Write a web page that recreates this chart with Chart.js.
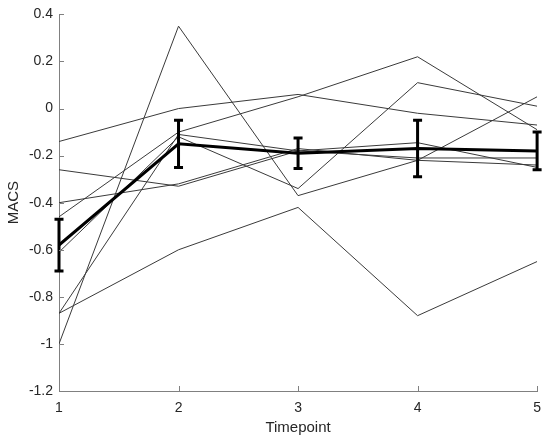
<!DOCTYPE html>
<html>
<head>
<meta charset="utf-8">
<title>MACS by timepoint</title>
<script src="https://cdn.jsdelivr.net/npm/chart.js@4.4.0/dist/chart.umd.min.js"></script>
<style>
  html, body { margin: 0; padding: 0; background: #fff; }
  canvas { display: block; }
</style>
</head>
<body>
<canvas id="macsChart" width="550" height="441"></canvas>
<script>
// timepoints on the x axis
const timepoints = [1, 2, 3, 4, 5];

// individual subjects (thin lines)
const subjectA = [-0.14, 0.00, 0.06, -0.02, -0.07];
const subjectB = [-1.00, 0.35, -0.37, -0.22, 0.05];
const subjectC = [-0.26, -0.33, -0.18, -0.21, -0.21];
const subjectD = [-0.40, -0.32, -0.17, -0.22, -0.24];
const subjectE = [-0.46, -0.10, 0.05, 0.22, -0.09];
const subjectF = [-0.61, -0.12, -0.34, 0.11, 0.01];
const subjectG = [-0.87, -0.11, -0.18, -0.145, -0.25];
const subjectH = [-0.87, -0.60, -0.42, -0.88, -0.65];

// group mean and error (thick line)
const meanMacs = [-0.58, -0.15, -0.19, -0.17, -0.18];
const errMacs = [0.11, 0.10, 0.065, 0.12, 0.08];

const subjects = [subjectA, subjectB, subjectC, subjectD, subjectE, subjectF, subjectG, subjectH];

const FONT = "'Liberation Sans', Arial, Helvetica, sans-serif";
const TEXT = '#262626';
const AXIS = '#808080';

function toPoints(values) {
  return values.map((v, i) => ({ x: timepoints[i], y: v }));
}

// error bars drawn with the chart's own scales
const errorBars = {
  id: 'errorBars',
  afterDatasetsDraw(chart) {
    const { ctx, scales: { x, y } } = chart;
    ctx.save();
    ctx.strokeStyle = '#000';
    ctx.lineWidth = 3;
    ctx.lineCap = 'butt';
    meanMacs.forEach((m, i) => {
      const px = x.getPixelForValue(timepoints[i]);
      const top = y.getPixelForValue(m + errMacs[i]);
      const bot = y.getPixelForValue(m - errMacs[i]);
      ctx.beginPath();
      ctx.moveTo(px, top);
      ctx.lineTo(px, bot);
      ctx.moveTo(px - 4.5, top);
      ctx.lineTo(px + 4.5, top);
      ctx.moveTo(px - 4.5, bot);
      ctx.lineTo(px + 4.5, bot);
      ctx.stroke();
    });
    ctx.restore();
  }
};

// matlab style inward ticks
const inwardTicks = {
  id: 'inwardTicks',
  afterDraw(chart) {
    const { ctx, chartArea, scales: { x, y } } = chart;
    ctx.save();
    ctx.strokeStyle = AXIS;
    ctx.lineWidth = 1;
    ctx.beginPath();
    x.ticks.forEach(t => {
      const px = Math.round(x.getPixelForValue(t.value)) + 0.5;
      ctx.moveTo(px, chartArea.bottom);
      ctx.lineTo(px, chartArea.bottom - 5);
    });
    y.ticks.forEach(t => {
      const py = Math.round(y.getPixelForValue(t.value)) + 0.5;
      ctx.moveTo(chartArea.left, py);
      ctx.lineTo(chartArea.left + 5, py);
    });
    ctx.stroke();
    ctx.restore();
  }
};

const datasets = subjects.map(s => ({
  data: toPoints(s),
  borderColor: '#3a3a3a',
  borderWidth: 1,
  pointRadius: 0,
  tension: 0,
  order: 1
}));

datasets.push({
  data: toPoints(meanMacs),
  borderColor: '#000',
  borderWidth: 3,
  pointRadius: 0,
  tension: 0,
  order: 0
});

new Chart(document.getElementById('macsChart'), {
  type: 'line',
  data: { datasets },
  plugins: [errorBars, inwardTicks],
  options: {
    responsive: false,
    animation: false,
    devicePixelRatio: 1,
    layout: { padding: { top: 12, right: 10, bottom: 0, left: 0 } },
    plugins: {
      legend: { display: false },
      tooltip: { enabled: false }
    },
    scales: {
      x: {
        type: 'linear',
        min: 1,
        max: 5,
        grid: { display: true, drawOnChartArea: false, drawTicks: false },
        border: { display: true, color: AXIS, width: 1 },
        ticks: {
          stepSize: 1,
          padding: 9,
          color: TEXT,
          font: { family: FONT, size: 14 },
          callback: v => String(v)
        },
        title: {
          display: true,
          text: 'Timepoint',
          color: TEXT,
          font: { family: FONT, size: 15 },
          padding: { top: 0, bottom: 4 }
        },
        afterFit(scale) { scale.height = 50; }
      },
      y: {
        min: -1.2,
        max: 0.4,
        grid: { display: true, drawOnChartArea: false, drawTicks: false },
        border: { display: true, color: AXIS, width: 1 },
        ticks: {
          stepSize: 0.2,
          padding: 6,
          color: TEXT,
          font: { family: FONT, size: 14 },
          callback: v => String(Math.round(v * 10) / 10)
        },
        title: {
          display: true,
          text: 'MACS',
          color: TEXT,
          font: { family: FONT, size: 15 },
          padding: { top: 5, bottom: 0 }
        },
        afterFit(scale) { scale.width = 59; }
      }
    }
  }
});
</script>
</body>
</html>
